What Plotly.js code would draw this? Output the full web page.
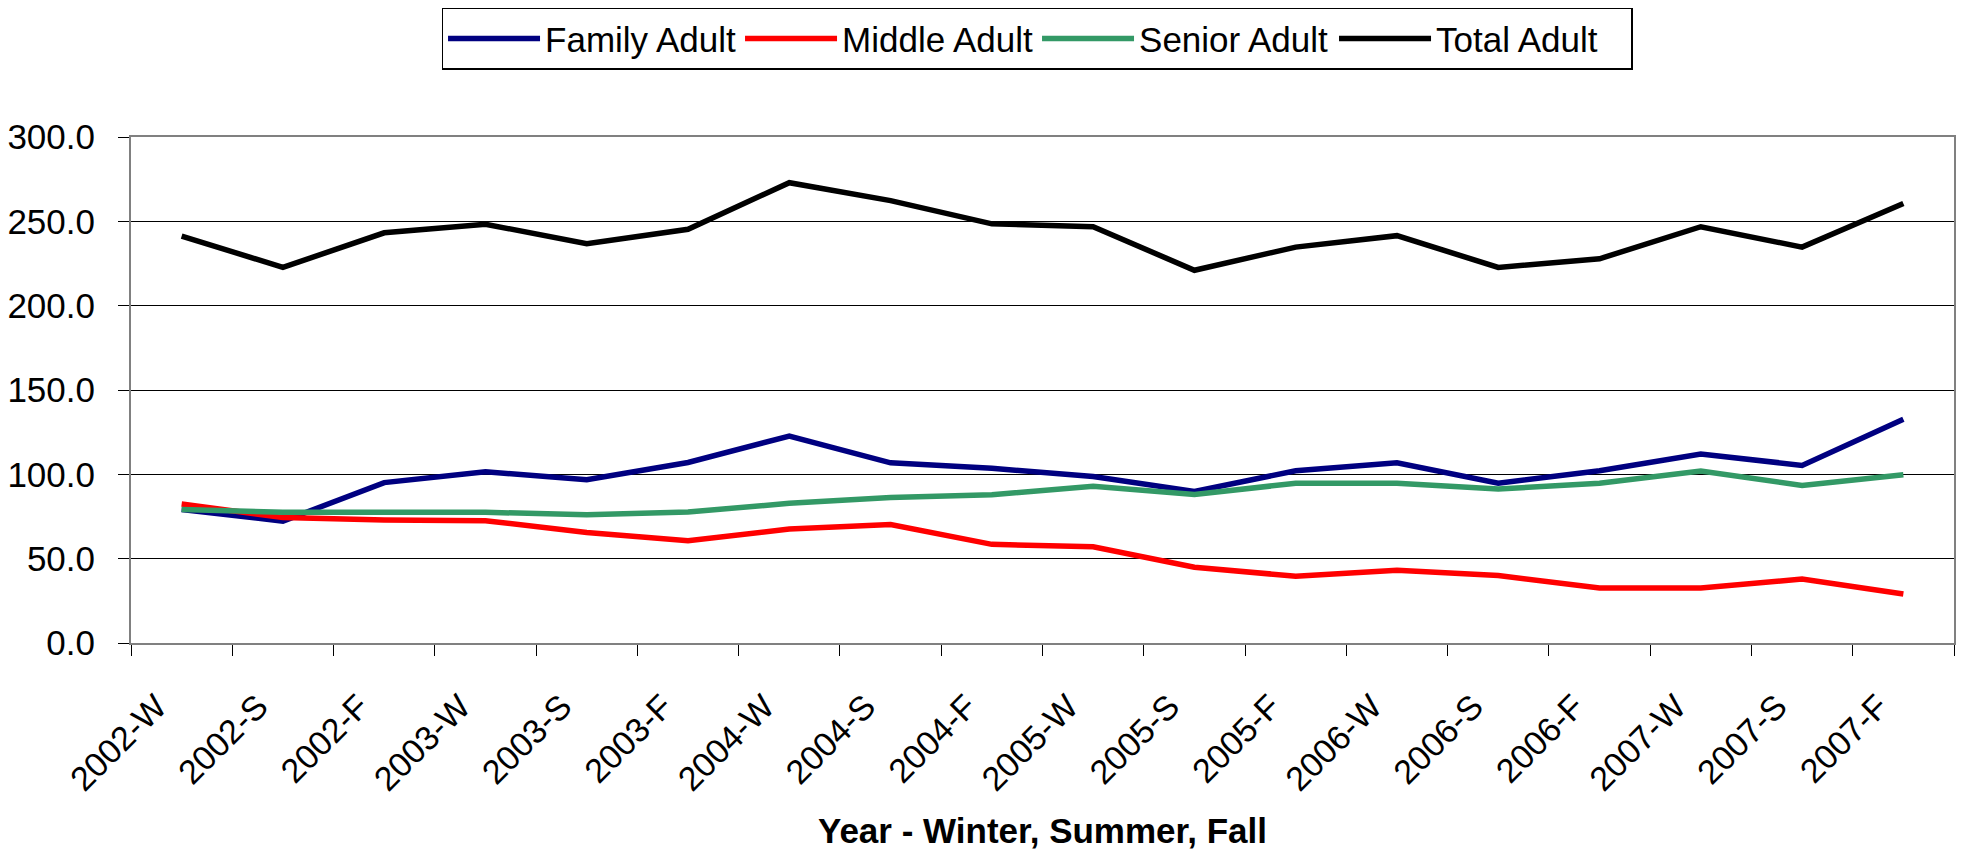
<!DOCTYPE html>
<html>
<head>
<meta charset="utf-8">
<script src="https://cdn.plot.ly/plotly-3.0.1.min.js"></script>
<style>
  html, body { margin: 0; padding: 0; background: #fff; }
  #chart { width: 1963px; height: 853px; }
</style>
</head>
<body>
<div id="chart"></div>
<script>
const categories = ["2002-W","2002-S","2002-F","2003-W","2003-S","2003-F","2004-W","2004-S","2004-F",
                    "2005-W","2005-S","2005-F","2006-W","2006-S","2006-F","2007-W","2007-S","2007-F"];
const familyAdult = [79.2, 72.2, 95.1, 101.5, 96.8, 107.0, 122.7, 106.8, 103.6, 98.7, 89.8, 102.1, 106.8, 94.7, 102.1, 112.1, 105.3, 132.6];
const middleAdult = [82.4, 74.4, 72.9, 72.5, 65.5, 60.6, 67.6, 70.3, 58.5, 57.0, 44.9, 39.6, 43.2, 40.0, 32.6, 32.6, 37.9, 29.0];
const seniorAdult = [79.2, 77.5, 77.5, 77.5, 76.0, 77.7, 82.8, 86.2, 87.9, 93.0, 88.1, 94.7, 94.7, 91.3, 94.7, 101.9, 93.4, 99.8];
const totalAdult  = [241.3, 222.7, 243.2, 248.3, 236.7, 245.3, 272.9, 262.3, 248.5, 246.8, 221.0, 234.7, 241.5, 222.7, 227.8, 246.8, 234.7, 260.6];
const yTicks = [0, 50, 100, 150, 200, 250, 300];

const FONT = "'Liberation Sans', Arial, sans-serif";
function series(name, y, color) {
  return { type: 'scatter', mode: 'lines', name: name, x: categories, y: y,
           line: { color: color, width: 5.5 }, hoverinfo: 'x+y+name' };
}
const data = [
  series('Family Adult', familyAdult, '#000080'),
  series('Middle Adult', middleAdult, '#FF0000'),
  series('Senior Adult', seniorAdult, '#339966'),
  series('Total Adult', totalAdult, '#000000')
];

const layout = {
  width: 1963, height: 853,
  paper_bgcolor: '#ffffff', plot_bgcolor: '#ffffff',
  font: { family: FONT, color: '#000', size: 34 },
  margin: { l: 131, r: 9, t: 136, b: 210, pad: 0 },
  showlegend: true,
  legend: {
    orientation: 'h', x: 0.497, xanchor: 'center', y: 1.253, yanchor: 'top',
    bordercolor: '#000', borderwidth: 1.5, bgcolor: '#fff',
    font: { family: FONT, size: 35, color: '#000' },
    itemwidth: 92, entrywidth: 190, entrywidthmode: 'pixels',
    traceorder: 'normal'
  },
  xaxis: {
    type: 'category', range: [-0.5, 17.5], tickson: 'boundaries',
    showgrid: false, zeroline: false,
    showline: true, linecolor: '#808080', linewidth: 2, mirror: true,
    ticks: 'outside', ticklen: 11, tickcolor: '#000', tickwidth: 1,
    tickangle: -45, ticklabelstandoff: 28, ticklabelshift: -25,
    tickfont: { family: FONT, size: 34, color: '#000' },
    automargin: false,
    title: { text: '<b>Year - Winter, Summer, Fall</b>', font: { family: FONT, size: 35, color: '#000' }, standoff: 22 }
  },
  yaxis: {
    range: [0, 300], tickvals: yTicks, tickformat: '.1f',
    showgrid: true, gridcolor: '#000', gridwidth: 1, zeroline: false,
    showline: true, linecolor: '#808080', linewidth: 2, mirror: true,
    ticks: 'outside', ticklen: 11, tickcolor: '#000', tickwidth: 1,
    ticklabelstandoff: 16,
    tickfont: { family: FONT, size: 35, color: '#000' },
    automargin: false
  }
};

Plotly.newPlot('chart', data, layout, { staticPlot: true, displayModeBar: false });
</script>
</body>
</html>
